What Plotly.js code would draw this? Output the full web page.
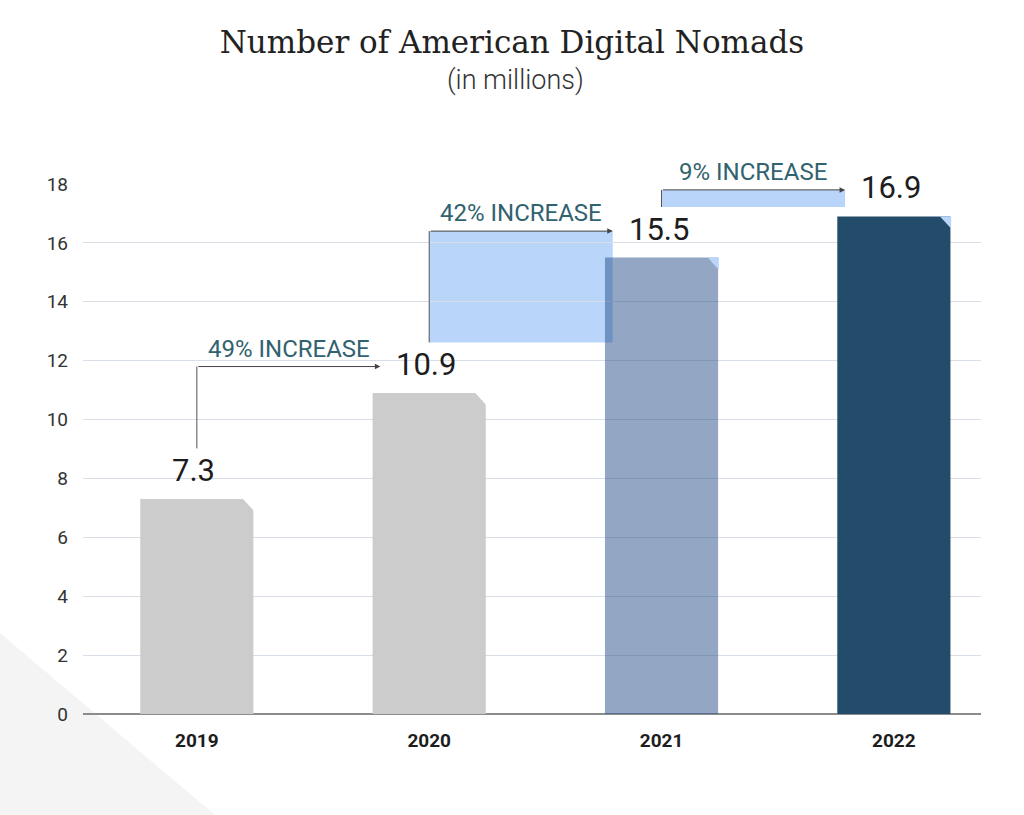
<!DOCTYPE html>
<html>
<head>
<meta charset="utf-8">
<script src="https://cdn.plot.ly/plotly-3.0.1.min.js"></script>
<style>html,body{margin:0;padding:0;background:#fff;}#chart{width:1024px;height:815px;}</style>
</head>
<body>
<div id="chart"></div>
<script>
// ---- data ----
const years = ['2019', '2020', '2021', '2022'];
const values = [7.3, 10.9, 15.5, 16.9];
const increaseLabels = ['49% INCREASE', '42% INCREASE', '9% INCREASE'];
const yTickVals = [0, 2, 4, 6, 8, 10, 12, 14, 16, 18];

// ---- style ----
const barColors = ['#cccccc', '#cccccc', 'rgba(40,80,140,0.5)', '#234c6a'];
const cornerColors = ['#ffffff', '#ffffff', '#b9d5f9', '#b9d5f9'];
const connectorBox = [false, true, true];
const lightBlue = '#b9d5f9';
const barWidth = 0.487;
const cornerDx = 0.045, cornerDy = 0.41;
const teal = '#31626f';

const xIdx = years.map((_, i) => i);

const shapes = [];
const annotations = [];

// background triangle decoration (paper coords)
shapes.push({
  type: 'path', xref: 'paper', yref: 'paper', layer: 'below',
  path: 'M -0.0925 0.153 L 0.147 -0.1906 L -0.0925 -0.1906 Z',
  fillcolor: '#f4f4f4', line: {width: 0}
});

// bar corner cuts
values.forEach((v, i) => {
  const xr = i + barWidth / 2;
  shapes.push({
    type: 'path', xref: 'x', yref: 'y', layer: 'above',
    path: `M ${xr - cornerDx} ${v} L ${xr + 0.003} ${v} L ${xr + 0.003} ${v - cornerDy} Z`,
    fillcolor: cornerColors[i], line: {width: 0}
  });
});

// value labels
values.forEach((v, i) => {
  annotations.push({
    x: i, y: v, xref: 'x', yref: 'y', text: String(v), showarrow: false,
    yanchor: 'bottom', yshift: 8, xshift: -3,
    font: {family: 'Roboto, sans-serif', size: 31, color: '#1d1d1d'}
  });
});

// connectors
increaseLabels.forEach((lab, i) => {
  const xStart = i;
  const xEnd = i + 1 - 0.21;
  const yTop = values[i + 1] + 0.9;
  const yBot = values[i] + 1.72;
  if (connectorBox[i]) {
    shapes.push({
      type: 'rect', xref: 'x', yref: 'y', layer: 'below',
      x0: xStart, x1: xEnd, y0: yBot, y1: yTop,
      fillcolor: lightBlue, line: {width: 0}
    });
  }
  shapes.push({
    type: 'line', xref: 'x', yref: 'y', layer: 'above',
    x0: xStart, x1: xStart, y0: yBot, y1: yTop,
    line: {color: '#555555', width: 1}
  });
  annotations.push({
    x: xEnd, y: yTop, xref: 'x', yref: 'y',
    ax: xStart, ay: yTop, axref: 'x', ayref: 'y',
    text: '', showarrow: true, arrowhead: 2, arrowsize: 1.1,
    arrowwidth: 1, arrowcolor: '#444444', standoff: 0, startstandoff: 0
  });
  annotations.push({
    x: (xStart + xEnd) / 2, y: yTop, xref: 'x', yref: 'y',
    text: lab, showarrow: false, yanchor: 'bottom', yshift: 2,
    font: {family: 'Roboto, sans-serif', size: 24, color: teal}
  });
});

// subtitle
annotations.push({
  x: (515 - 83) / 898, y: (714 - 80) / 530, xref: 'paper', yref: 'paper',
  text: '(in millions)', showarrow: false, yanchor: 'middle',
  font: {family: 'Roboto, sans-serif', size: 27, color: '#333333', weight: 300}
});

const trace = {
  type: 'bar', x: xIdx, y: values, width: barWidth,
  marker: {color: barColors, line: {width: 0}},
  hoverinfo: 'skip'
};

const layout = {
  width: 1024, height: 815,
  margin: {l: 83, r: 43, t: 184, b: 101},
  paper_bgcolor: '#ffffff', plot_bgcolor: 'rgba(0,0,0,0)',
  showlegend: false,
  title: {
    text: 'Number of American Digital Nomads',
    x: 0.5, xref: 'container', y: 1 - 42 / 815, yref: 'container', yanchor: 'middle',
    font: {family: 'DejaVu Serif, serif', size: 31, color: '#222222'}
  },
  xaxis: {
    type: 'linear', range: [-0.49, 3.375],
    tickvals: xIdx, ticktext: years,
    showgrid: false, zeroline: false, showline: false, ticks: '',
    ticklabelstandoff: 13,
    tickfont: {family: 'Roboto, sans-serif', size: 19, color: '#1d1d1d', weight: 'bold'},
    fixedrange: true
  },
  yaxis: {
    range: [0, 18], tickvals: yTickVals,
    showgrid: true, gridcolor: '#d8dee6', gridwidth: 1,
    zeroline: true, zerolinecolor: '#8c8c8c', zerolinewidth: 2,
    showline: false, ticks: '', ticklabelstandoff: 14,
    tickfont: {family: 'Roboto, sans-serif', size: 19, color: '#333333'},
    fixedrange: true
  },
  shapes: shapes,
  annotations: annotations
};

Plotly.newPlot('chart', [trace], layout, {displayModeBar: false, staticPlot: true});
</script>
</body>
</html>
